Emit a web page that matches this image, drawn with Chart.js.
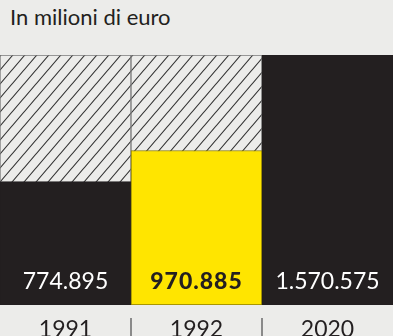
<!DOCTYPE html>
<html>
<head>
<meta charset="utf-8">
<script src="https://cdn.jsdelivr.net/npm/chart.js@4"></script>
<style>
  html, body { margin: 0; padding: 0; background: #ececea; overflow: hidden; }
  body { width: 393px; height: 336px; position: relative; }
  #sub {
    position: absolute; left: 10px; top: 3px;
    font-family: Lato, sans-serif; font-size: 22px; color: #231f20;
  }
  #wrap { position: absolute; left: 0; top: 0; width: 393px; height: 336px; }
</style>
</head>
<body>
<div id="sub">In milioni di euro</div>
<div id="wrap"><canvas id="barChart"></canvas></div>
<script>
// data
const years = ['1991', '1992', '2020'];
const values = [774.895, 970.885, 1570.575];
const valueLabels = ['774.895', '970.885', '1.570.575'];
const hatchValues = [1570.575, 1570.575, null]; // 2020 level shown behind older bars

const barColors = ['#231f20', '#ffe500', '#231f20'];
const labelColors = ['#ffffff', '#231f20', '#ffffff'];
const labelWeights = ['400', '900', '400'];

// diagonal hatch pattern
function makeHatch() {
    const w = 12, h = 14;
    const c = document.createElement('canvas');
    c.width = w; c.height = h;
    const g = c.getContext('2d');
    g.fillStyle = '#ececea';
    g.fillRect(0, 0, w, h);
    g.strokeStyle = '#333333';
    g.lineWidth = 1.1;
    g.beginPath();
    for (let k = -1; k <= 1; k++) {
        g.moveTo(k * w - 2, h + 2 * h / w);
        g.lineTo(k * w + w + 2, -2 * h / w);
    }
    g.stroke();
    return g.createPattern(c, 'repeat');
}

const valueLabelPlugin = {
    id: 'valueLabels',
    afterDatasetsDraw(chart) {
        const ctx = chart.ctx;
        const meta = chart.getDatasetMeta(1);
        ctx.save();
        ctx.textAlign = 'center';
        ctx.textBaseline = 'middle';
        meta.data.forEach((bar, i) => {
            ctx.font = labelWeights[i] + ' 23px Lato, sans-serif';
            ctx.letterSpacing = labelWeights[i] === '900' ? '1px' : '0px';
            ctx.fillStyle = labelColors[i];
            ctx.fillText(valueLabels[i], bar.x, chart.chartArea.bottom - 23);
        });
        ctx.restore();
    }
};

const separatorPlugin = {
    id: 'separators',
    afterDraw(chart) {
        const ctx = chart.ctx;
        const x = chart.scales.x;
        ctx.save();
        ctx.strokeStyle = '#8a8a8a';
        ctx.lineWidth = 2;
        for (let i = 0; i < years.length - 1; i++) {
            const px = (x.getPixelForValue(i) + x.getPixelForValue(i + 1)) / 2;
            ctx.beginPath();
            ctx.moveTo(px, chart.chartArea.bottom + 13);
            ctx.lineTo(px, chart.height);
            ctx.stroke();
        }
        ctx.restore();
    }
};

const barCtx = document.getElementById('barChart').getContext('2d');
new Chart(barCtx, {
    type: 'bar',
    data: {
        labels: years,
        datasets: [{
            label: '2020',
            data: hatchValues,
            backgroundColor: makeHatch(),
            borderColor: '#7a7a7a',
            borderWidth: 1,
            borderSkipped: false,
            order: 2
        }, {
            label: 'Valore',
            data: values,
            backgroundColor: barColors,
            borderColor: ['#231f20', '#8c7d00', '#231f20'],
            borderWidth: 1,
            borderSkipped: false,
            order: 1
        }]
    },
    options: {
        responsive: true,
        maintainAspectRatio: false,
        animation: false,
        devicePixelRatio: 1,
        layout: { padding: { top: 55, left: 0, right: 0, bottom: 0 } },
        datasets: { bar: { grouped: false, barPercentage: 1, categoryPercentage: 1 } },
        plugins: { legend: { display: false }, tooltip: { enabled: false } },
        scales: {
            x: {
                afterFit(scale) { scale.height = 31; },
                grid: { display: false },
                border: { display: false },
                ticks: {
                    color: '#231f20',
                    padding: 5,
                    font: { family: 'Lato', size: 23, lineHeight: 1 }
                }
            },
            y: {
                display: false,
                min: 0,
                max: Math.max(...values)
            }
        }
    },
    plugins: [valueLabelPlugin, separatorPlugin]
});
</script>
</body>
</html>
